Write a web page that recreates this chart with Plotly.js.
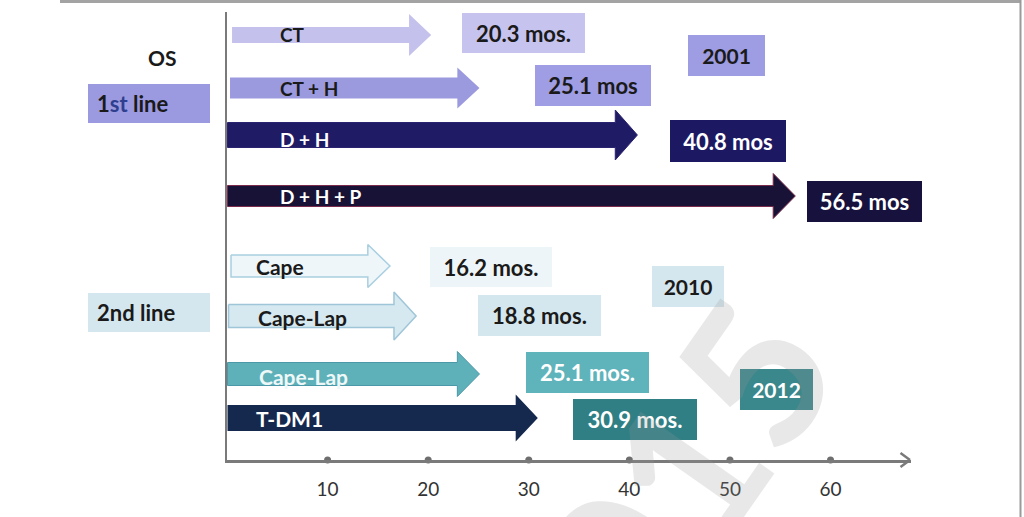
<!DOCTYPE html>
<html><head><meta charset="utf-8">
<script src="https://cdn.plot.ly/plotly-3.0.1.min.js"></script>
<style>html,body{margin:0;padding:0;background:#fff}#chart{width:1024px;height:517px}</style>
</head><body><div id="chart"></div>
<script>
// ---- data ----
const regimens = ['CT', 'CT + H', 'D + H', 'D + H + P', 'Cape', 'Cape-Lap', 'Cape-Lap', 'T-DM1'];
const osMonths = [20.3, 25.1, 40.8, 56.5, 16.2, 18.8, 25.1, 30.9];
const osLabels = ['20.3 mos.', '25.1 mos', '40.8 mos', '56.5 mos', '16.2 mos.', '18.8 mos.', '25.1 mos.', '30.9 mos.'];
const years = ['2001', '2015', '2010', '2012'];
const lineLabels = ['1st line', '2nd line'];
const xTicks = [10, 20, 30, 40, 50, 60];
const axisTitle = 'OS';
const watermark = '2015';

// ---- layout geometry (pixels) ----
const L = 227, R = 911, T = 12, B = 460, XMAX = 68;
const xd = px => (px - L) / (R - L) * XMAX;
const pxX = px => (px - L) / (R - L);
const pxY = py => (B - py) / (B - T);

const rowY = [35, 88, 135, 196, 266, 316, 374, 418];
const labelY = [34, 88, 139, 196, 266, 317, 376, 418];
const labelPx = [278, 278, 278, 278, 254, 256, 257, 254];
const bodyHalf = [8, 10.5, 12.5, 10.5, 11, 11.5, 11.5, 13];
const headHalf = [21, 20.5, 25, 22.5, 21.5, 24, 22.5, 23.5];
const headLen = 2.2;
const startX = [0.5, 0.3, 0.05, 0.05, 0.4, 0.15, 0.05, 0.05];
const fillCol = ['#c4c2ec', '#9c9ade', '#1f1b65', '#181336', '#eef6fa', '#d6e8f0', '#5eb1b9', '#15294f'];
const lineCol = ['#c4c2ec', '#9c9ade', '#2a2470', '#7a2a4a', '#a9cfe0', '#9fc6d8', '#4a98a8', '#15294f'];
const lineW = [0, 0, 1, 1, 1.5, 1.5, 1, 0];
const labelCol = ['#1a1a1a', '#1a1a1a', '#ffffff', '#ffffff', '#1a1a1a', '#1a1a1a', '#eef8f8', '#ffffff'];
const labelSize = [19, 19, 19, 19, 21, 21, 21, 21];

const boxC = [[523.5, 33], [593, 85.5], [728, 141], [864.5, 201.5], [491, 267], [539.5, 315.5], [587.5, 372.5], [635, 419.5]];
const boxW = [123, 116, 116, 115, 122, 123, 123, 124];
const boxH = [40, 41, 42, 41, 40, 41, 41, 41];
const boxBg = ['#c6c4ee', '#9f9de3', '#1d1862', '#17113d', '#eef5f8', '#d5e7ee', '#5fb3bb', '#2f7f85'];
const boxTx = ['#1a1a1a', '#1a1a1a', '#ffffff', '#ffffff', '#1a1a1a', '#1a1a1a', '#ffffff', '#ffffff'];

const yearC = [[726.5, 55], [951, 154], [688, 286.5], [776.5, 389.5]];
const yearW = [77, 74, 72, 73];
const yearBg = ['#9e9ce2', '#17113d', '#d5e7ee', '#3a878c'];
const yearTx = ['#1a1a1a', '#ffffff', '#1a1a1a', '#ffffff'];

const lineC = [[149, 103.5], [148.5, 312.5]];
const lineBg = ['#9b99df', '#d5e7ee'];

const FONT = 'Lato, "Open Sans", sans-serif';

// ---- traces ----
const traces = [];
regimens.forEach((name, i) => {
  const v = osMonths[i], c = rowY[i], b = bodyHalf[i], h = headHalf[i], s = startX[i];
  traces.push({
    type: 'scatter', mode: 'lines', fill: 'toself',
    x: [s, v - headLen, v - headLen, v, v - headLen, v - headLen, s, s],
    y: [c - b, c - b, c - h, c, c + h, c + b, c + b, c - b],
    fillcolor: fillCol[i],
    line: {color: lineCol[i], width: lineW[i]},
    hoverinfo: 'skip', showlegend: false
  });
});
traces.push({
  type: 'scatter', mode: 'markers', x: xTicks, y: xTicks.map(() => B),
  marker: {size: 7, color: '#6e6e6e'}, cliponaxis: false,
  hoverinfo: 'skip', showlegend: false
});

// ---- annotations ----
const ann = [];
regimens.forEach((name, i) => {
  ann.push({xref: 'x', yref: 'y', x: xd(labelPx[i]), y: labelY[i], xanchor: 'left', yanchor: 'middle',
    text: '<b>' + name + '</b>', showarrow: false,
    font: {family: FONT, size: labelSize[i], color: labelCol[i]}});
});
osLabels.forEach((t, i) => {
  ann.push({xref: 'x', yref: 'y', x: xd(boxC[i][0]), y: boxC[i][1], xanchor: 'center', yanchor: 'middle',
    text: '<b>' + t + '</b>', showarrow: false, width: boxW[i], height: boxH[i],
    borderpad: 0, borderwidth: 0, bgcolor: boxBg[i],
    font: {family: FONT, size: 22, color: boxTx[i]}});
});
years.forEach((t, i) => {
  ann.push({xref: 'x', yref: 'y', x: xd(yearC[i][0]), y: yearC[i][1], xanchor: 'center', yanchor: 'middle',
    text: '<b>' + t + '</b>', showarrow: false, width: yearW[i], height: 41,
    borderpad: 0, borderwidth: 0, bgcolor: yearBg[i],
    font: {family: FONT, size: 21, color: yearTx[i]}});
});
const lineText = ['<b>1<span style="color:#2e3f8f">st</span> line</b>', '<b>' + lineLabels[1] + '</b>'];
lineLabels.forEach((t, i) => {
  ann.push({xref: 'paper', yref: 'paper', x: pxX(lineC[i][0]), y: pxY(lineC[i][1]), xanchor: 'center', yanchor: 'middle',
    text: lineText[i], showarrow: false, width: 104, height: 21, align: 'left',
    borderpad: 9, borderwidth: 0, bgcolor: lineBg[i],
    font: {family: FONT, size: 22, color: '#1a1a1a'}});
});
ann.push({xref: 'paper', yref: 'paper', x: pxX(162), y: pxY(57), xanchor: 'center', yanchor: 'middle',
  text: '<b>' + axisTitle + '</b>', showarrow: false, font: {family: FONT, size: 21, color: '#1a1a1a'}});
// x-axis arrow chevron
[[452], [468]].forEach(p => {
  ann.push({xref: 'x', yref: 'y', axref: 'x', ayref: 'y', x: xd(910), y: B, ax: xd(899), ay: p[0],
    text: '', showarrow: true, arrowhead: 0, arrowwidth: 2.5, arrowcolor: '#7a7a7a', standoff: 0, startstandoff: 0});
});
// semi-transparent watermark over everything (as in the source image)
ann.push({xref: 'paper', yref: 'paper', x: pxX(652), y: pxY(514), xanchor: 'center', yanchor: 'middle',
  text: '<b>' + watermark + '</b>', showarrow: false, textangle: -55,
  font: {family: FONT, size: 200, color: 'rgba(150,150,150,0.22)'}});

const layout = {
  width: 1024, height: 517,
  margin: {l: L, r: 1024 - R, t: T, b: 517 - B, pad: 0},
  paper_bgcolor: '#ffffff', plot_bgcolor: '#ffffff',
  showlegend: false,
  xaxis: {range: [0, XMAX], showgrid: false, zeroline: false, showline: true, linecolor: '#7a7a7a', linewidth: 2.5,
    tickvals: xTicks, ticktext: xTicks.map(String), ticks: '', ticklabelstandoff: 11,
    tickfont: {family: FONT, size: 19, color: '#333333'}, fixedrange: true},
  yaxis: {range: [B, T], showgrid: false, zeroline: false, showline: true, linecolor: '#7a7a7a', linewidth: 2.5,
    showticklabels: false, ticks: '', fixedrange: true},
  shapes: [
    {type: 'line', xref: 'paper', yref: 'paper', x0: pxX(60), x1: pxX(1021), y0: pxY(1.5), y1: pxY(1.5),
      line: {color: '#a3a3a3', width: 3}},
    {type: 'line', xref: 'paper', yref: 'paper', x0: pxX(1020.5), x1: pxX(1020.5), y0: pxY(0), y1: pxY(517),
      line: {color: '#9a9a9a', width: 2}}
  ],
  annotations: ann
};

Plotly.newPlot('chart', traces, layout, {displayModeBar: false, staticPlot: true});
</script>
</body></html>
